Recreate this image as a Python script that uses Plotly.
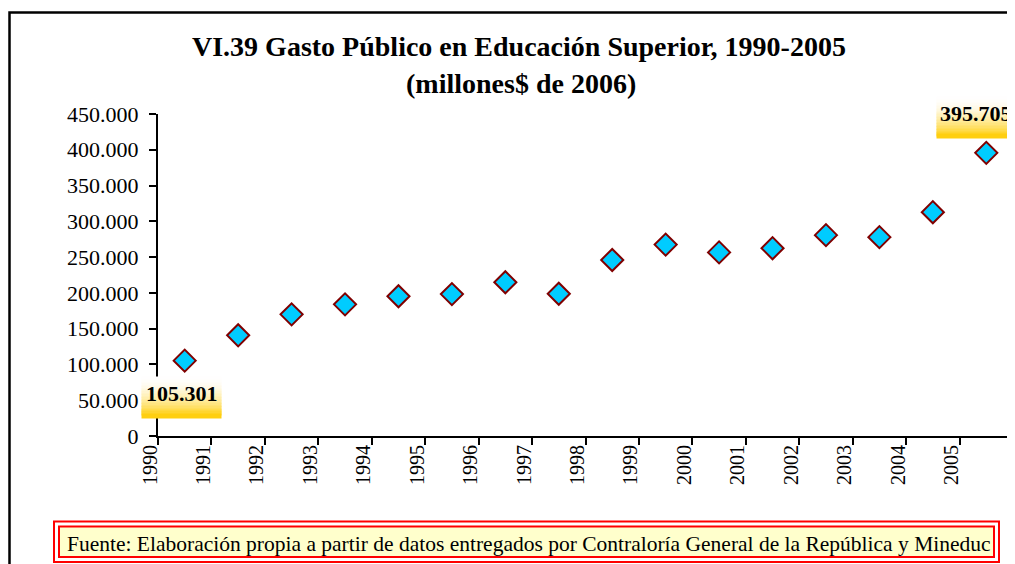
import plotly.graph_objects as go

# ------------------------------------------- Data -------------------------------------------

years = ['1990', '1991', '1992', '1993', '1994', '1995', '1996', '1997',
         '1998', '1999', '2000', '2001', '2002', '2003', '2004', '2005']
gasto = [105301, 140700, 170000, 184000, 195300, 198300, 214900, 198800,
         246000, 267500, 256600, 262500, 280700, 277900, 312800, 395705]
y_ticks = [0, 50000, 100000, 150000, 200000, 250000, 300000, 350000, 400000, 450000]

title_1 = 'VI.39 Gasto Público en Educación Superior, 1990-2005'
title_2 = '(millones$ de 2006)'
fuente = 'Fuente: Elaboración propia a partir de datos entregados por Contraloría General de la República y Mineduc'

# ------------------------------------------- Layout helpers -------------------------------------------

# the page has an 8px body margin, so the figure is drawn 8px smaller
OFF = 8
W, H = 1015 - OFF, 564 - OFF
ML, MR, MT, MB = 158 - OFF, 2, 114 - OFF, 128
FONT = 'Liberation Serif'


def px_x(px):
    """Screen pixel x -> paper x"""
    return (px - OFF - ML) / (W - ML - MR)


def px_y(py):
    """Screen pixel y -> paper y"""
    return (H - MB - (py - OFF)) / (H - MT - MB)


# points sit between the year ticks, like the old Excel chart
x_pos = [i + 0.5 for i in range(len(years))]

fig = go.Figure()
fig.add_trace(go.Scatter(
    x=x_pos, y=gasto, mode='markers',
    marker=dict(symbol='diamond', size=17, color='#00CCFF',
                line=dict(color='#800000', width=2)),
    hoverinfo='skip', showlegend=False, cliponaxis=False))

annotations = []


def gradient_label(i, xshift, yshift, text_yshift, w=79, h=40, n=14):
    """Box with white -> gold gradient under a value label"""
    for k in range(n):
        t = (k + 0.5) / n
        f = t ** 1.8
        r, g, b = 255, int(255 - 51 * f), int(255 - 255 * f)
        annotations.append(dict(
            x=x_pos[i], y=gasto[i], xref='x', yref='y', text=' ', showarrow=False,
            xanchor='center', yanchor='middle',
            width=w, height=h / n + 1, borderpad=0, bgcolor='rgb({},{},{})'.format(r, g, b),
            font=dict(size=1), xshift=xshift, yshift=yshift + h / 2 - (k + 0.5) * h / n))
    label = '{:,}'.format(gasto[i]).replace(',', '.')
    annotations.append(dict(
        x=x_pos[i], y=gasto[i], xref='x', yref='y', text='<b>' + label + '</b>', showarrow=False,
        xanchor='center', yanchor='middle',
        font=dict(family=FONT, size=22, color='black'), xshift=xshift, yshift=text_yshift))


gradient_label(0, -3, -37, -33)
gradient_label(len(years) - 1, -10, 35, 39)

# Title
annotations.append(dict(x=px_x(519), y=px_y(46), xref='paper', yref='paper', showarrow=False,
                        xanchor='center', yanchor='middle',
                        text='<b>' + title_1 + '</b>', font=dict(family=FONT, size=28, color='black')))
annotations.append(dict(x=px_x(521), y=px_y(83), xref='paper', yref='paper', showarrow=False,
                        xanchor='center', yanchor='middle',
                        text='<b>' + title_2 + '</b>', font=dict(family=FONT, size=28, color='black')))

# Source note
annotations.append(dict(x=px_x(65), y=px_y(544), xref='paper', yref='paper', showarrow=False,
                        xanchor='left', yanchor='middle',
                        text=fuente, font=dict(family=FONT, size=21.5, color='black')))

shapes = [
    # chart frame
    dict(type='rect', xref='paper', yref='paper', x0=px_x(9.5), x1=px_x(1100), y0=px_y(700), y1=px_y(12.5),
         line=dict(color='black', width=2.5), layer='below'),
    # source box, double red border
    dict(type='rect', xref='paper', yref='paper', x0=px_x(54), x1=px_x(999), y0=px_y(562), y1=px_y(521.5),
         line=dict(color='#FF0000', width=2), fillcolor='white', layer='below'),
    dict(type='rect', xref='paper', yref='paper', x0=px_x(59), x1=px_x(994), y0=px_y(557), y1=px_y(526.5),
         line=dict(color='#FF0000', width=2), fillcolor='#FFFFCC', layer='below'),
]

fig.update_layout(
    width=W, height=H,
    margin=dict(l=ML, r=MR, t=MT, b=MB),
    paper_bgcolor='white', plot_bgcolor='white',
    separators=',.',
    font=dict(family=FONT, color='black'),
    annotations=annotations,
    shapes=shapes,
    showlegend=False,
)

fig.update_xaxes(
    range=[0, len(years)], tickmode='array',
    tickvals=list(range(len(years) + 1)), ticktext=years + [''],
    tickangle=-90, ticks='outside', ticklen=7, tickwidth=1.5, tickcolor='black',
    showline=True, linecolor='black', linewidth=2, showgrid=False, zeroline=False,
    tickfont=dict(family=FONT, size=20, color='black'),
    ticklabelshift=-8, ticklabelstandoff=-8,
)

fig.update_yaxes(
    range=[0, 450000], tickmode='array', tickvals=y_ticks, tickformat=',d',
    ticks='outside', ticklen=7, tickwidth=1.5, tickcolor='black',
    showline=True, linecolor='black', linewidth=2, showgrid=False, zeroline=False,
    tickfont=dict(family=FONT, size=22, color='black'),
    ticklabelstandoff=6,
)

fig.write_html("out.html")
